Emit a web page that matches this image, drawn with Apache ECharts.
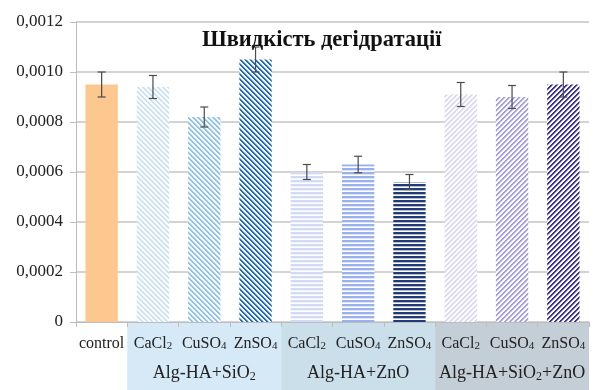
<!DOCTYPE html>
<html>
<head>
<meta charset="utf-8">
<script src="https://cdn.jsdelivr.net/npm/echarts@6/dist/echarts.min.js"></script>
<style>
html,body{margin:0;padding:0;background:#fff;}
#c{width:598px;height:390px;}
</style>
</head>
<body>
<div id="c"></div>
<script>
// ---- data ----
var categories = ['control','CaCl2','CuSO4','ZnSO4','CaCl2','CuSO4','ZnSO4','CaCl2','CuSO4','ZnSO4'];
var groupLabels = ['', '', 'Alg-HA+SiO2', '', '', 'Alg-HA+ZnO', '', '', 'Alg-HA+SiO2+ZnO', ''];
var groupRanges = [[1,3],[4,6],[7,9]];
var values = [0.00095, 0.00094, 0.00082, 0.00105, 0.00060, 0.00063, 0.00056, 0.00091, 0.00090, 0.00095];
var errors = [0.00005, 0.000046, 0.00004, 0.00005, 0.00003, 0.000033, 0.00003, 0.000048, 0.000046, 0.00005];
var yTicks = [0, 0.0002, 0.0004, 0.0006, 0.0008, 0.0010, 0.0012];

// ---- styles ----
var FONT = "'Liberation Serif','Times New Roman',serif";
var barColors = ['#fcc890','#c9e2f6','#8cc3ec','#1f6cc4','#d2daf5','#9bb1ee','#213a78','#dcd8f4','#a59fe6','#3a33a0'];
var patterns = [null,'back','back','back','horiz','horiz','horiz','fwd','fwd','fwd'];
var groupBg = ['#d6e9f6','#cbdfea','#c3ced6'];

function hexToRgb(h){h=h.replace('#','');return [parseInt(h.substr(0,2),16),parseInt(h.substr(2,2),16),parseInt(h.substr(4,2),16)];}
function makePattern(type, color){
  var s = type === 'horiz' ? 4 : 5;
  var cv = document.createElement('canvas'); cv.width = s; cv.height = s;
  var ctx = cv.getContext('2d');
  var img = ctx.createImageData(s, s);
  var c = hexToRgb(color);
  for (var y=0;y<s;y++) for (var x=0;x<s;x++){
    var k;
    if (type === 'horiz') k = (y % 4) < 2 ? 1 : ((y%4)===2 ? 0.35 : 0);
    else if (type === 'back') { var d = ((x - y) % s + s) % s; k = d < 2 ? 1 : (d === 2 ? 0.4 : 0); }
    else { var d2 = (x + y) % s; k = d2 < 2 ? 1 : (d2 === 2 ? 0.4 : 0); }
    var i = (y*s + x)*4;
    img.data[i] = Math.round(255 + (c[0]-255)*k);
    img.data[i+1] = Math.round(255 + (c[1]-255)*k);
    img.data[i+2] = Math.round(255 + (c[2]-255)*k);
    img.data[i+3] = 255;
  }
  ctx.putImageData(img,0,0);
  return {image: cv, repeat: 'repeat'};
}

function subLabel(t){
  var m = t.match(/^(.*?)(\d)(.*)$/);
  if (!m) return '{n|' + t + '}';
  var rest = m[3] ? subLabel(m[3]) : '';
  return '{n|' + m[1] + '}{s|' + m[2] + '}' + rest;
}

var barData = values.map(function(v,i){
  return {value: v, itemStyle: {color: patterns[i] ? makePattern(patterns[i], barColors[i]) : barColors[i]}};
});
var errData = values.map(function(v,i){ return [i, v, errors[i]]; });

var chart = echarts.init(document.getElementById('c'), null, {renderer:'canvas'});
var option = {
  backgroundColor: '#fff',
  animation: false,
  title: {
    text: 'Швидкість дегідратації',
    left: 197, top: 24,
    textStyle: {fontFamily: FONT, fontWeight: 'bold', fontSize: 22.5, color: '#111'}
  },
  grid: {left: 76, right: 9, top: 22, bottom: 68},
  xAxis: [{
    type: 'category', data: categories,
    axisLine: {lineStyle: {color: '#bdbdbd', width: 1}},
    axisTick: {show: true, interval: 0, length: 5, lineStyle: {color: '#bdbdbd'}},
    axisLabel: {
      interval: 0, margin: 14,
      formatter: function(v){ return subLabel(v); },
      rich: {
        n: {fontFamily: FONT, fontSize: 16, color: '#222'},
        s: {fontFamily: FONT, fontSize: 11, color: '#222', padding: [5,0,0,0]}
      }
    }
  },{
    type: 'category', data: groupLabels, position: 'bottom', offset: 34,
    axisLine: {show: false}, axisTick: {show: false},
    axisLabel: {
      interval: 0,
      formatter: function(v){ return v ? subLabel(v) : ''; },
      rich: {
        n: {fontFamily: FONT, fontSize: 18, color: '#222'},
        s: {fontFamily: FONT, fontSize: 12, color: '#222', padding: [7,0,0,0]}
      }
    }
  }],
  yAxis: {
    type: 'value', min: yTicks[0], max: yTicks[yTicks.length-1], interval: 0.0002,
    axisLine: {show: true, lineStyle: {color: '#bdbdbd'}},
    axisTick: {show: true, length: 6, lineStyle: {color: '#bdbdbd'}},
    splitLine: {lineStyle: {color: '#c4c4c4', width: 1.5}},
    axisLabel: {
      margin: 13, fontFamily: FONT, fontSize: 17, color: '#222',
      formatter: function(v){ return v === 0 ? '0' : v.toFixed(4).replace('.', ','); }
    }
  },
  series: [{
    type: 'bar', data: barData, barWidth: '63%', z: 2
  },{
    type: 'custom', data: errData, z: 5,
    encode: {x: 0, y: 1},
    renderItem: function(params, api){
      var i = api.value(0), v = api.value(1), e = api.value(2);
      var top = api.coord([i, v + e]), bot = api.coord([i, v - e]);
      var w = 4;
      var st = {stroke: '#4a4a4a', lineWidth: 1.2};
      return {type: 'group', children: [
        {type: 'line', shape: {x1: top[0], y1: top[1], x2: bot[0], y2: bot[1]}, style: st},
        {type: 'line', shape: {x1: top[0]-w, y1: top[1], x2: top[0]+w, y2: top[1]}, style: st},
        {type: 'line', shape: {x1: bot[0]-w, y1: bot[1], x2: bot[0]+w, y2: bot[1]}, style: st}
      ]};
    }
  }]
};
chart.setOption(option);

// group background bands under the axis, positioned from the category scale
var c0 = chart.convertToPixel({xAxisIndex: 0}, 0);
var c1 = chart.convertToPixel({xAxisIndex: 0}, 1);
var band = c1 - c0;
var yBase = chart.convertToPixel({yAxisIndex: 0}, 0);
var els = groupRanges.map(function(r, gi){
  var xa = chart.convertToPixel({xAxisIndex: 0}, r[0]) - band/2;
  var xb = chart.convertToPixel({xAxisIndex: 0}, r[1]) + band/2;
  return {type: 'rect', z: -10, silent: true,
    shape: {x: xa, y: yBase, width: xb - xa, height: 390 - yBase},
    style: {fill: groupBg[gi]}};
});
chart.setOption({graphic: {elements: els}});
</script>
</body>
</html>
